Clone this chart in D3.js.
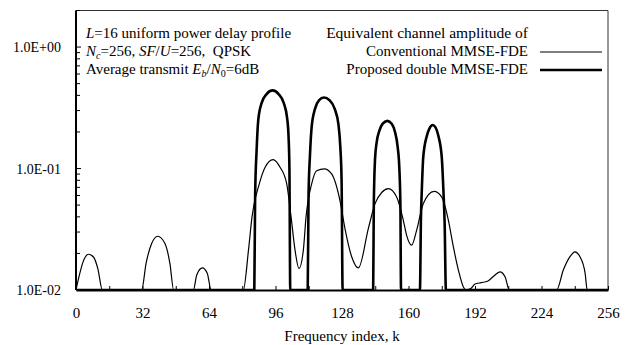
<!DOCTYPE html>
<html>
<head>
<meta charset="utf-8">
<script src="https://cdn.jsdelivr.net/npm/d3@7"></script>
<style>
  body { margin: 0; background: #fff; }
  text { font-family: "Liberation Serif", "Times New Roman", serif; fill: #000; }
</style>
</head>
<body>
<svg id="chart" width="631" height="345"></svg>
<script>
// frequency index k, equivalent channel amplitude
const conventional = [
  [0, 0.01], [1.5, 0.013], [3.5, 0.0172], [6, 0.0197], [8.5, 0.0186], [10.5, 0.015], [12.7, 0.01],
  [31.6, 0.01], [33.7, 0.0165], [36.4, 0.0241], [39.3, 0.0277], [42.8, 0.0241], [45.2, 0.0165], [47, 0.01],
  [56.5, 0.01], [58.1, 0.0133], [60.8, 0.0152], [63.2, 0.0137], [65, 0.01],
  [80.5, 0.01], [83, 0.0213], [84.7, 0.04], [88.2, 0.0748], [91, 0.1025], [94.8, 0.1186],
  [98.2, 0.1025], [101.4, 0.0748], [103.5, 0.04], [105.4, 0.0213], [107.3, 0.015],
  [109.4, 0.0213], [110.7, 0.04], [113.4, 0.0748], [115.8, 0.096], [119.5, 0.0994],
  [123, 0.0904], [127, 0.0547], [129.4, 0.0322], [132.7, 0.0187], [135.9, 0.0152],
  [140.7, 0.0322], [143.9, 0.0514], [147.1, 0.0635], [150.3, 0.0682], [154.3, 0.0582],
  [157.5, 0.0375], [159.1, 0.0282], [161.5, 0.0234], [163.9, 0.031], [167.1, 0.0514],
  [172.3, 0.0648], [176, 0.0582], [179.2, 0.0375], [181.6, 0.0226], [184, 0.0146],
  [186.4, 0.0106], [187.5, 0.01],
  [190, 0.0103], [192, 0.0112], [195, 0.0115], [198, 0.0118], [201, 0.013], [204, 0.0141],
  [206.5, 0.0128], [208.5, 0.01],
  [231.3, 0.01], [234.5, 0.0146], [237.7, 0.0188], [240.1, 0.0206], [242.5, 0.0188], [245, 0.0137], [246, 0.01],
  [256, 0.01]
];

const proposed = [
  [0, 0.01],
  [85.8, 0.01], [86.2, 0.06], [86.9, 0.14], [87.7, 0.25], [89.3, 0.345], [91.7, 0.41], [94.6, 0.44],
  [97.5, 0.41], [100, 0.345], [101.6, 0.26], [102.3, 0.18], [102.7, 0.1], [103.1, 0.01],
  [111.5, 0.01], [111.9, 0.06], [112.6, 0.13], [113.4, 0.22], [115, 0.31], [117, 0.365], [119.3, 0.384],
  [122, 0.365], [124.5, 0.31], [126.3, 0.23], [127.2, 0.15], [127.8, 0.08], [128.3, 0.01],
  [143, 0.01], [143.3, 0.05], [143.9, 0.12], [144.7, 0.165], [146, 0.205], [147.5, 0.233], [149.8, 0.247],
  [152, 0.233], [153.5, 0.2], [154.8, 0.15], [155.6, 0.1], [156.1, 0.05], [156.4, 0.01],
  [165.5, 0.01], [166, 0.04], [166.4, 0.066], [167.1, 0.124], [168.8, 0.185], [170, 0.212], [171.6, 0.228],
  [173, 0.218], [174.4, 0.185], [176, 0.124], [176.8, 0.066], [177.4, 0.035], [178, 0.01],
  [256, 0.01]
];

const xTickValues = [0, 32, 64, 96, 128, 160, 192, 224, 256];
const xMinorTicks = d3.range(0, 257, 16);
const yTickValues = [0.01, 0.1, 1];
const yTickLabels = ["1.0E-02", "1.0E-01", "1.0E+00"];
const legendLabels = ["Conventional MMSE-FDE", "Proposed double MMSE-FDE"];

const svg = d3.select("#chart");
const margin = { left: 76, right: 23, top: 10.5, bottom: 55 };
const W = 631, H = 345;

const x = d3.scaleLinear().domain([0, 256]).range([margin.left, W - margin.right]);
const y = d3.scaleLog().domain([0.01, 2]).range([H - margin.bottom, margin.top]);

svg.append("rect").attr("width", W).attr("height", H).attr("fill", "#fff");

svg.append("defs").append("clipPath").attr("id", "plotClip")
  .append("rect")
  .attr("x", x(0)).attr("y", y(2))
  .attr("width", x(256) - x(0)).attr("height", y(0.01) - y(2));

// top/right frame
svg.append("path")
  .attr("d", `M${x(0)},${y(2)}H${x(256)}V${y(0.01)}`)
  .attr("fill", "none").attr("stroke", "#333").attr("stroke-width", 1);

const line = d3.line()
  .x(d => x(d[0]))
  .y(d => y(d[1]))
  .curve(d3.curveMonotoneX);

const plot = svg.append("g").attr("clip-path", "url(#plotClip)");

plot.append("path").datum(conventional)
  .attr("d", line).attr("fill", "none").attr("stroke", "#000").attr("stroke-width", 1.2);

plot.append("path").datum(proposed)
  .attr("d", line).attr("fill", "none").attr("stroke", "#000").attr("stroke-width", 2.6);

// x axis, ticks pointing inward
const xAxis = d3.axisBottom(x).tickValues(xMinorTicks).tickSizeInner(-4).tickSizeOuter(0)
  .tickFormat(d => xTickValues.includes(d) ? d : "");
const gx = svg.append("g").attr("transform", `translate(0,${y(0.01)})`).call(xAxis);
gx.select(".domain").attr("stroke-width", 2).attr("stroke", "#000");
gx.selectAll(".tick line").attr("stroke", "#000");
gx.selectAll(".tick text")
  .attr("y", 28).attr("dy", 0).attr("fill", "#000")
  .style("font-family", "Liberation Serif").style("font-size", "15px");

// y axis, log minor ticks pointing inward
const yMinor = [];
[0.01, 0.1, 1].forEach(dec => d3.range(2, 10).forEach(m => { if (dec * m <= 2) yMinor.push(dec * m); }));
const gy = svg.append("g").attr("transform", `translate(${x(0)},0)`);
gy.append("line").attr("x1", 0).attr("x2", 0).attr("y1", y(2)).attr("y2", y(0.01))
  .attr("stroke", "#000").attr("stroke-width", 2);
gy.selectAll(".minor").data(yMinor).join("line").attr("class", "minor")
  .attr("x1", 0).attr("x2", 4).attr("y1", d => y(d)).attr("y2", d => y(d))
  .attr("stroke", "#000");
gy.selectAll(".major").data(yTickValues).join("line").attr("class", "major")
  .attr("x1", 0).attr("x2", 5).attr("y1", d => y(d)).attr("y2", d => y(d))
  .attr("stroke", "#000");
gy.selectAll(".lab").data(yTickValues).join("text").attr("class", "lab")
  .attr("x", -15).attr("y", d => y(d) + 5)
  .attr("text-anchor", "end").style("font-size", "14px")
  .text((d, i) => yTickLabels[i]);

svg.append("text")
  .attr("x", (x(0) + x(256)) / 2).attr("y", 341)
  .attr("text-anchor", "middle").style("font-size", "15px")
  .text("Frequency index, k");

// annotation block
const note = svg.append("text").attr("x", 86).style("font-size", "15px");
const l1 = note.append("tspan").attr("x", 86).attr("y", 37.5);
l1.append("tspan").style("font-style", "italic").text("L");
l1.append("tspan").text("=16 uniform power delay profile");

const l2 = note.append("tspan").attr("x", 86).attr("y", 55.5);
l2.append("tspan").style("font-style", "italic").text("N");
l2.append("tspan").style("font-style", "italic").style("font-size", "10px").attr("dy", 3).text("c");
l2.append("tspan").attr("dy", -3).text("=256, ");
l2.append("tspan").style("font-style", "italic").text("SF");
l2.append("tspan").text("/");
l2.append("tspan").style("font-style", "italic").text("U");
l2.append("tspan").text("=256,\u00a0 QPSK");

const l3 = note.append("tspan").attr("x", 86).attr("y", 73.5);
l3.append("tspan").text("Average transmit ");
l3.append("tspan").style("font-style", "italic").text("E");
l3.append("tspan").style("font-style", "italic").style("font-size", "10px").attr("dy", 3).text("b");
l3.append("tspan").attr("dy", -3).text("/");
l3.append("tspan").style("font-style", "italic").text("N");
l3.append("tspan").style("font-size", "10px").attr("dy", 3).text("0");
l3.append("tspan").attr("dy", -3).text("=6dB");

// legend
const legX = 528;
svg.append("text").attr("x", legX).attr("y", 37.5).attr("text-anchor", "end")
  .style("font-size", "15.5px").text("Equivalent channel amplitude of");
const leg = svg.append("g");
legendLabels.forEach((lab, i) => {
  const ly = 55.5 + i * 18;
  leg.append("text").attr("x", legX).attr("y", ly).attr("text-anchor", "end")
    .style("font-size", "15px").text(lab);
  leg.append("line").attr("x1", 540).attr("x2", 602)
    .attr("y1", ly - 3.5).attr("y2", ly - 3.5)
    .attr("stroke", "#000").attr("stroke-width", i === 0 ? 1.2 : 2.6);
});
</script>
</body>
</html>
